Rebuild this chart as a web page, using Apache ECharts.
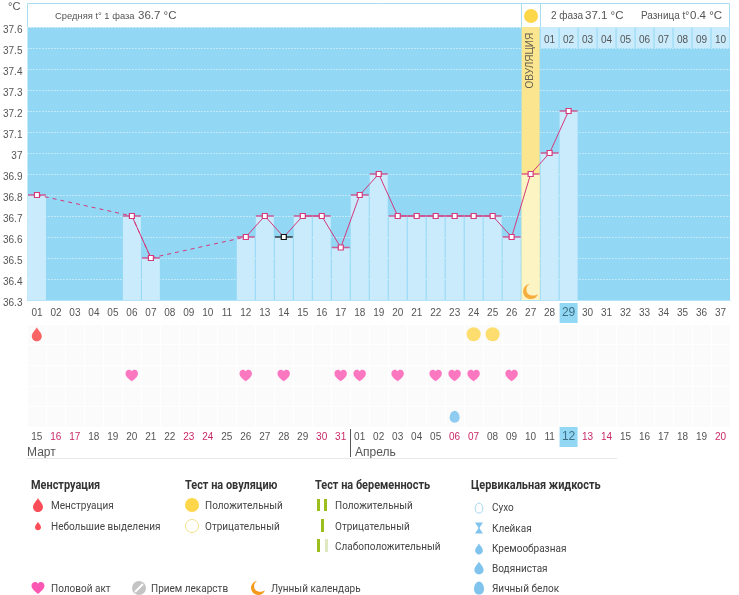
<!DOCTYPE html>
<html>
<head>
<meta charset="utf-8">
<style>html,body{margin:0;padding:0;background:#fff}#main{width:739px;height:595px}</style>
<script src="https://cdn.jsdelivr.net/npm/echarts@6/dist/echarts.min.js"></script>
</head>
<body>
<div id="main"></div>
<script>
// cycle days and calendar dates under them
const cycleDays = ['01','02','03','04','05','06','07','08','09','10','11','12','13','14','15','16','17','18','19','20','21','22','23','24','25','26','27','28','29','30','31','32','33','34','35','36','37'];
const calendarDates = ['15','16','17','18','19','20','21','22','23','24','25','26','27','28','29','30','31','01','02','03','04','05','06','07','08','09','10','11','12','13','14','15','16','17','18','19','20'];
const weekendIdx = [1,2,8,9,15,16,22,23,29,30,36];
const todayIdx = 28;

// temperatures, null = not measured
const temps = [36.8,null,null,null,null,36.7,36.5,null,null,null,null,36.6,36.7,36.6,36.7,36.7,36.55,36.8,36.9,36.7,36.7,36.7,36.7,36.7,36.7,36.6,36.9,37.0,37.2,null,null,null,null,null,null,null,null];
const dashedTemps = [36.8,null,null,null,null,36.7,36.5,null,null,null,null,36.6,null,null,null,null,null,null,null,null,null,null,null,null,null,null,null,null,null,null,null,null,null,null,null,null,null];
const outlierIdx = [13];
const ovulationIdx = 26;
const phase2Labels = ['01','02','03','04','05','06','07','08','09','10'];
const phase2Start = 27;

// event rows (0 = top row), values are day indexes
const menstruationDays = [0];
const ovulationTestDays = [23,24];
const intercourseDays = [5,11,13,16,17,19,21,22,23,25];
const fluidDays = [22];

const HEART = 'M12 22C4 16 0 12 0 7C0 3 3 0 7 0C9 0 11 1 12 3C13 1 15 0 17 0C21 0 24 3 24 7C24 12 20 16 12 22Z';
const DROP = 'M10 0C12 5 20 11 20 18C20 24 15 28 10 28C5 28 0 24 0 18C0 11 8 5 10 0Z';
const EGG = 'M10 0C16 0 20 8 20 15C20 22 16 26 10 26C4 26 0 22 0 15C0 8 4 0 10 0Z';
const MOON = 'M9 0C4 3 3 10 7 14C11 17 17 17 21 14C19 20 12 23 6 20C0 17 -2 9 2 4C4 2 6 0 9 0Z';
const STICKY = 'M0 0L10 0L6 6L6 8L10 14L0 14L4 8L4 6Z';

const textColor = '#555';
const font = '"Liberation Sans", Arial, sans-serif';
const legendFont = 'Roboto, sans-serif';
const pink = '#d4397c';
const skyBlue = '#92d8f4';
const paleBlue = '#c9ebfc';
const green = '#9dbf1e';
const blue = '#80c4ee';

function labelRich() {
    return {
        n: { color: textColor, fontSize: 10, fontFamily: font, width: 18, height: 20, lineHeight: 20, align: 'center' },
        w: { color: '#c92a66', fontSize: 10, fontFamily: font, width: 18, height: 20, lineHeight: 20, align: 'center' },
        t: { color: '#3d6f86', fontSize: 12, fontFamily: font, width: 18, height: 20, lineHeight: 20, align: 'center', backgroundColor: skyBlue }
    };
}

// header and legend pieces, not chart data
function txt(x, y, text, size, opts, scaleX) {
    return { type: 'text', x: x, y: y, scaleX: scaleX || 1, silent: true, style: Object.assign({ text: text, fill: textColor, fontSize: size, fontFamily: font, verticalAlign: 'middle' }, opts || {}) };
}
function rect(x, y, w, h, fill) {
    return { type: 'rect', shape: { x: x, y: y, width: w, height: h }, style: { fill: fill } };
}
function legendText(x, y, text) {
    return txt(x, y, text, 11, { fontFamily: legendFont, fill: '#444' }, 0.91);
}
function legendTitle(x, y, text) {
    return txt(x, y, text, 12, { fontFamily: legendFont, fill: '#333', fontWeight: 'bold' }, 0.91);
}

// legend icons: path, centre x, centre y, width, height, fill, stroke
const legendIcons = [
    [DROP, 38, 505, 10, 14, '#fb4d57'],
    [DROP, 38, 526, 6, 9, '#fb4d57'],
    [EGG, 479, 508, 8, 10, '#fff', '#a8d6f2'],
    [STICKY, 479, 528, 8, 13, blue],
    [DROP, 479, 549, 9, 11, blue],
    [DROP, 479, 568, 10, 13, blue],
    [EGG, 479, 588, 10, 13, blue],
    [HEART, 38, 588, 13, 12, '#fb57b3'],
    [MOON, 258, 588, 14, 14, '#f59a1d']
];

function renderLegendIcon(params) {
    const ic = legendIcons[params.dataIndex];
    return {
        type: 'path',
        shape: { pathData: ic[0], x: ic[1] - ic[3] / 2, y: ic[2] - ic[4] / 2, width: ic[3], height: ic[4] },
        style: { fill: ic[5], stroke: ic[6] || null }
    };
}

const chrome = [
    // header strip
    { type: 'rect', shape: { x: 27.5, y: 3.5, width: 702, height: 24 }, style: { fill: '#fff', stroke: '#a8dcf0', lineWidth: 1 } },
    { type: 'line', shape: { x1: 521.5, y1: 3, x2: 521.5, y2: 27 }, style: { stroke: '#a8dcf0' } },
    { type: 'line', shape: { x1: 540.5, y1: 3, x2: 540.5, y2: 27 }, style: { stroke: '#a8dcf0' } },
    { type: 'circle', shape: { cx: 531, cy: 16, r: 7 }, style: { fill: '#fdd64a' } },
    txt(55, 16, 'Средняя t° 1 фаза', 9.4),
    txt(138, 15.5, '36.7 °C', 11.5),
    txt(551, 16, '2 фаза', 10),
    txt(585, 15.5, '37.1 °C', 11.5),
    txt(641, 16, 'Разница t°', 10),
    txt(690, 15.5, '0.4 °C', 11.5),
    // months
    txt(27, 453, 'Март', 12),
    txt(355, 453, 'Апрель', 12),
    { type: 'line', shape: { x1: 350.5, y1: 429, x2: 350.5, y2: 457 }, style: { stroke: '#555' } },
    { type: 'line', shape: { x1: 27, y1: 458.5, x2: 617, y2: 458.5 }, style: { stroke: '#e8e8e8' } },
    // legend: menstruation
    legendTitle(31, 486, 'Менструация'),
    legendText(51, 506, 'Менструация'),
    legendText(51, 527, 'Небольшие выделения'),
    // legend: ovulation test
    legendTitle(185, 486, 'Тест на овуляцию'),
    { type: 'circle', shape: { cx: 192, cy: 505, r: 7 }, style: { fill: '#fdd64a' } },
    legendText(205, 506, 'Положительный'),
    { type: 'circle', shape: { cx: 192, cy: 526, r: 6.5 }, style: { fill: '#fff', stroke: '#f5e08a' } },
    legendText(205, 527, 'Отрицательный'),
    // legend: pregnancy test
    legendTitle(315, 486, 'Тест на беременность'),
    rect(317, 499, 3, 12, green), rect(324, 499, 3, 12, green),
    legendText(335, 506, 'Положительный'),
    rect(321, 519, 3, 13, green),
    legendText(335, 527, 'Отрицательный'),
    rect(317, 539, 3, 13, green), rect(325, 539, 3, 13, '#dfe8c0'),
    legendText(335, 547, 'Слабоположительный'),
    // legend: cervical fluid
    legendTitle(471, 486, 'Цервикальная жидкость'),
    legendText(492, 508.5, 'Сухо'),
    legendText(492, 529, 'Клейкая'),
    { type: 'circle', shape: { cx: 475, cy: 545, r: 3 }, style: { fill: '#fff' } },
    legendText(492, 549, 'Кремообразная'),
    legendText(492, 569, 'Водянистая'),
    legendText(492, 589, 'Яичный белок'),
    // legend: bottom row
    legendText(51, 589, 'Половой акт'),
    { type: 'circle', shape: { cx: 139, cy: 588, r: 7 }, style: { fill: '#c4c4c4' } },
    { type: 'line', shape: { x1: 135, y1: 592, x2: 143, y2: 584 }, style: { stroke: '#fff', lineWidth: 2 } },
    legendText(151, 589, 'Прием лекарств'),
    legendText(271, 589, 'Лунный календарь')
];

// filled rectangles spanning one day between two temperatures
function renderBand(params, api) {
    const top = api.coord([api.value(0), api.value(2)]);
    const bottom = api.coord([api.value(0), api.value(1)]);
    const w = api.size([1, 0])[0] - 1;
    const children = [{
        type: 'rect',
        shape: { x: top[0] - w / 2, y: top[1], width: w, height: bottom[1] - top[1] },
        style: { fill: api.value(3) === 1 ? '#fbe68f' : paleBlue }
    }];
    if (api.value(3) === 0) {
        children.push({
            type: 'text', x: top[0], y: (top[1] + bottom[1]) / 2 + 3,
            style: { text: phase2Labels[params.dataIndex - 1], fill: textColor, fontSize: 10, fontFamily: font, align: 'center', verticalAlign: 'middle' }
        });
    }
    return { type: 'group', children: children };
}

const bandData = [[ovulationIdx, 36.3, 37.6, 1]].concat(phase2Labels.map((l, i) => [phase2Start + i, 37.5, 37.6, 0]));

function rowPoints(days, row) {
    return days.map(d => [d, row]);
}

const myChart = echarts.init(document.getElementById('main'), null, { renderer: 'canvas' });
myChart.setOption({
    animation: false,
    backgroundColor: '#fff',
    graphic: chrome,
    grid: [
        { left: 27.3, right: 9, top: 27, height: 273, show: true, backgroundColor: skyBlue, borderWidth: 0 },
        { left: 27.3, right: 9, top: 324, height: 103, show: true, backgroundColor: '#fbfbfb', borderWidth: 0 }
    ],
    xAxis: [{
        gridIndex: 0,
        type: 'category',
        data: cycleDays,
        axisTick: { show: false },
        axisLine: { lineStyle: { color: '#b5e3f7' } },
        axisLabel: {
            interval: 0, margin: 3,
            formatter: (v, i) => i === todayIdx ? '{t|' + v + '}' : '{n|' + v + '}',
            rich: labelRich()
        }
    }, {
        gridIndex: 1,
        type: 'category',
        data: calendarDates,
        axisTick: { show: false },
        axisLine: { show: false },
        splitLine: { show: true, interval: 0, lineStyle: { color: '#fff' } },
        axisLabel: {
            interval: 0, margin: 0,
            formatter: (v, i) => i === todayIdx ? '{t|' + v + '}' : (weekendIdx.includes(i) ? '{w|' + v + '}' : '{n|' + v + '}'),
            rich: labelRich()
        }
    }],
    yAxis: [{
        gridIndex: 0,
        type: 'value',
        min: 36.3, max: 37.6, interval: 0.1,
        name: '°C',
        nameLocation: 'end',
        nameGap: 15,
        nameTextStyle: { color: textColor, fontSize: 11, fontFamily: font, align: 'right', padding: [0, 7, 0, 0] },
        axisLine: { show: false },
        axisTick: { show: false },
        axisLabel: { color: textColor, fontSize: 10, fontFamily: font, margin: 5, verticalAlign: 'top', lineHeight: 6, showMinLabel: true, showMaxLabel: true },
        splitLine: { show: true, lineStyle: { color: 'rgba(255,255,255,0.85)', type: [1, 2], width: 1 } }
    }, {
        gridIndex: 1,
        type: 'category',
        inverse: true,
        data: ['0', '1', '2', '3', '4'],
        axisLine: { show: false },
        axisTick: { show: false },
        axisLabel: { show: false },
        splitLine: { show: true, interval: 0, lineStyle: { color: '#fff' } }
    }],
    series: [{
        type: 'custom',
        z: 1,
        xAxisIndex: 0, yAxisIndex: 0,
        renderItem: renderBand,
        encode: { x: 0, y: 1 },
        clip: false,
        data: bandData
    }, {
        type: 'bar',
        z: 2,
        xAxisIndex: 0, yAxisIndex: 0,
        barWidth: 18,
        itemStyle: { color: paleBlue },
        data: temps.map((t, i) => i === ovulationIdx ? { value: t, itemStyle: { color: '#fdf4c3' } } : t)
    }, {
        // dashed stretches over the days without a measurement
        type: 'line',
        z: 3,
        xAxisIndex: 0, yAxisIndex: 0,
        connectNulls: true,
        showSymbol: false,
        lineStyle: { color: pink, width: 1, type: [4, 4] },
        data: dashedTemps
    }, {
        type: 'scatter',
        z: 4,
        xAxisIndex: 0, yAxisIndex: 0,
        symbol: 'rect',
        symbolSize: [18, 1.5],
        data: temps.map((t, i) => ({ value: t, itemStyle: { color: outlierIdx.includes(i) ? '#111' : pink } }))
    }, {
        type: 'line',
        z: 5,
        xAxisIndex: 0, yAxisIndex: 0,
        connectNulls: false,
        symbol: 'rect',
        symbolSize: 5,
        showAllSymbol: true,
        lineStyle: { color: pink, width: 1 },
        itemStyle: { color: '#fff', borderColor: pink, borderWidth: 1.2 },
        data: temps.map((t, i) => outlierIdx.includes(i) ? { value: t, itemStyle: { color: '#fff', borderColor: '#111', borderWidth: 1.2 } } : t)
    }, {
        // caption and moon sitting in the ovulation column
        type: 'scatter',
        z: 6,
        xAxisIndex: 0, yAxisIndex: 0,
        symbolSize: 0,
        label: { show: true, formatter: 'ОВУЛЯЦИЯ', rotate: 90, position: 'inside', color: '#444', fontSize: 10, fontFamily: font },
        data: [[ovulationIdx, 37.44]]
    }, {
        type: 'scatter',
        z: 6,
        xAxisIndex: 0, yAxisIndex: 0,
        symbol: 'path://' + MOON,
        symbolSize: [15, 15],
        itemStyle: { color: '#f59a1d' },
        data: [[ovulationIdx, 36.34]]
    }, {
        type: 'scatter',
        xAxisIndex: 1, yAxisIndex: 1,
        symbol: 'path://' + DROP,
        symbolSize: [10, 14],
        itemStyle: { color: '#fb3f3f' },
        data: rowPoints(menstruationDays, 0)
    }, {
        type: 'scatter',
        xAxisIndex: 1, yAxisIndex: 1,
        symbol: 'circle',
        symbolSize: 14,
        itemStyle: { color: '#fdd64a' },
        data: rowPoints(ovulationTestDays, 0)
    }, {
        type: 'scatter',
        xAxisIndex: 1, yAxisIndex: 1,
        symbol: 'path://' + HEART,
        symbolSize: [12.5, 11.5],
        itemStyle: { color: '#fb57b3' },
        data: rowPoints(intercourseDays, 2)
    }, {
        type: 'scatter',
        xAxisIndex: 1, yAxisIndex: 1,
        symbol: 'path://' + EGG,
        symbolSize: [10, 12],
        itemStyle: { color: '#74c0f0' },
        data: rowPoints(fluidDays, 4)
    }, {
        type: 'custom',
        coordinateSystem: 'none',
        renderItem: renderLegendIcon,
        silent: true,
        data: legendIcons.map((ic, i) => i)
    }]
});
</script>
</body>
</html>
